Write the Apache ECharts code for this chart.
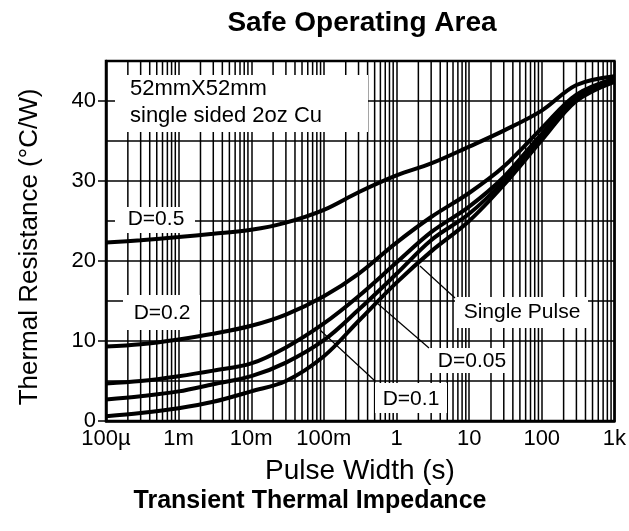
<!DOCTYPE html>
<html>
<head>
<meta charset="utf-8">
<script src="https://cdn.jsdelivr.net/npm/echarts@6/dist/echarts.min.js"></script>
<style>
html,body{margin:0;padding:0;background:#fff;}
#chart{width:629px;height:531px;}
</style>
</head>
<body>
<div id="chart"></div>
<script>
// ---- data ----
const pulseWidth = [1e-4, 3e-4, 1e-3, 3e-3, 1e-2, 3e-2, 0.1, 0.3, 1, 3, 10, 30, 100, 300, 1000];
const zD05    = [22.3, 22.6, 23.0, 23.4, 23.9, 24.8, 26.4, 28.6, 30.7, 32.2, 34.3, 36.3, 38.8, 42.0, 43.1];
const zD02    = [9.3, 9.6, 10.2, 10.9, 11.9, 13.3, 15.6, 18.4, 22.3, 25.5, 28.5, 31.8, 36.6, 40.8, 42.8];
const zD01    = [4.7, 5.0, 5.6, 6.3, 7.2, 9.2, 12.2, 15.6, 19.8, 23.6, 26.8, 30.5, 35.9, 40.4, 42.6];
const zD005   = [2.7, 3.1, 3.7, 4.6, 5.6, 7.3, 10.1, 13.9, 18.4, 22.6, 25.9, 30.0, 35.5, 40.2, 42.5];
const zSingle = [0.6, 1.0, 1.6, 2.4, 3.7, 5.0, 8.1, 12.5, 17.3, 21.2, 25.0, 29.5, 35.1, 40.0, 42.4];
const xTickValues = [1e-4, 1e-3, 1e-2, 0.1, 1, 10, 100, 1000];
const xTickLabels = ['100\u00b5', '1m', '10m', '100m', '1', '10', '100', '1k'];
const yLabelValues = [0, 10, 20, 30, 40];

const pairs = arr => pulseWidth.map((t, i) => [t, arr[i]]);
const minorX = [];
for (let d = 1e-4; d < 999; d *= 10) {
  for (let k = 2; k <= 9; k++) minorX.push([d * k, 0]);
}

const chart = echarts.init(document.getElementById('chart'), null, {renderer: 'canvas'});
const FONT = '"Liberation Sans", Arial, sans-serif';
const curve = (name, arr) => ({
  name, type: 'line', data: pairs(arr), smooth: 0.35, showSymbol: false,
  symbol: 'none', z: 3, silent: true,
  lineStyle: {color: '#000', width: 4}
});

chart.setOption({
  animation: false,
  backgroundColor: '#fff',
  grid: {left: 106, right: 14, top: 61, bottom: 110, show: true,
         borderColor: '#000', borderWidth: 2.5, backgroundColor: 'transparent'},
  xAxis: {
    type: 'log', logBase: 10, min: 1e-4, max: 1000,
    axisLine: {show: true, lineStyle: {color: '#000', width: 2.5}},
    axisTick: {show: false},
    minorTick: {show: false},
    splitLine: {show: true, lineStyle: {color: '#000', width: 1.5}},
    axisLabel: {
      color: '#000', fontSize: 22, fontFamily: FONT, margin: 7,
      formatter: v => {
        const i = xTickValues.findIndex(t => Math.abs(Math.log10(t) - Math.log10(v)) < 1e-6);
        return i >= 0 ? xTickLabels[i] : '';
      }
    }
  },
  yAxis: {
    type: 'value', min: 0, max: 45, interval: 5,
    axisLine: {show: true, lineStyle: {color: '#000', width: 2.5}},
    axisTick: {show: false},
    splitLine: {show: true, lineStyle: {color: '#000', width: 1.5}},
    axisLabel: {
      color: '#000', fontSize: 22, fontFamily: FONT, margin: 10,
      formatter: v => yLabelValues.indexOf(v) >= 0 ? String(v) : ''
    }
  },
  series: [
    {
      type: 'custom', z: 1, silent: true, data: minorX,
      encode: {x: 0, y: 1},
      renderItem: (params, api) => {
        const v = api.value(0);
        const p1 = api.coord([v, 0]);
        const p2 = api.coord([v, 45]);
        return {type: 'line', shape: {x1: p1[0], y1: p1[1], x2: p2[0], y2: p2[1]},
                style: {stroke: '#000', lineWidth: 1.5}};
      }
    },
    {
      type: 'custom', z: 1, silent: true, clip: false,
      data: yLabelValues.map(v => [1e-4, v]),
      encode: {x: 0, y: 1},
      renderItem: (params, api) => {
        const p = api.coord([api.value(0), api.value(1)]);
        return {type: 'line', shape: {x1: p[0] - 8, y1: p[1], x2: p[0], y2: p[1]},
                style: {stroke: '#000', lineWidth: 1.5}};
      }
    },
    curve('D=0.5', zD05),
    curve('D=0.2', zD02),
    curve('D=0.1', zD01),
    curve('D=0.05', zD005),
    curve('Single Pulse', zSingle)
  ],
  graphic: [
    // white label boxes
    {type: 'rect', z: 10, shape: {x: 115, y: 75, width: 253, height: 57}, style: {fill: '#fff'}},
    {type: 'rect', z: 10, shape: {x: 115, y: 207, width: 80, height: 26}, style: {fill: '#fff'}},
    {type: 'rect', z: 10, shape: {x: 123, y: 295, width: 77, height: 35}, style: {fill: '#fff'}},
    {type: 'rect', z: 10, shape: {x: 455, y: 297, width: 133, height: 31}, style: {fill: '#fff'}},
    {type: 'rect', z: 10, shape: {x: 430, y: 348, width: 80, height: 25}, style: {fill: '#fff'}},
    {type: 'rect', z: 10, shape: {x: 375, y: 383, width: 72, height: 30}, style: {fill: '#fff'}},
    // leader lines
    {type: 'line', z: 11, shape: {x1: 420, y1: 266, x2: 455, y2: 298}, style: {stroke: '#000', lineWidth: 1.2}},
    {type: 'line', z: 11, shape: {x1: 377, y1: 303, x2: 429, y2: 348}, style: {stroke: '#000', lineWidth: 1.2}},
    {type: 'line', z: 11, shape: {x1: 320, y1: 330, x2: 375, y2: 381}, style: {stroke: '#000', lineWidth: 1.2}},
    // label texts
    {type: 'text', z: 12, style: {text: '52mmX52mm', x: 130, y: 89, font: '22px ' + FONT, fill: '#000', textAlign: 'left', textVerticalAlign: 'middle'}},
    {type: 'text', z: 12, style: {text: 'single sided 2oz Cu', x: 130, y: 116, font: '22px ' + FONT, fill: '#000', textAlign: 'left', textVerticalAlign: 'middle'}},
    {type: 'text', z: 12, style: {text: 'D=0.5', x: 156, y: 219, font: '21px ' + FONT, fill: '#000', textAlign: 'center', textVerticalAlign: 'middle'}},
    {type: 'text', z: 12, style: {text: 'D=0.2', x: 162, y: 313, font: '21px ' + FONT, fill: '#000', textAlign: 'center', textVerticalAlign: 'middle'}},
    {type: 'text', z: 12, style: {text: 'Single Pulse', x: 522, y: 312, font: '21px ' + FONT, fill: '#000', textAlign: 'center', textVerticalAlign: 'middle'}},
    {type: 'text', z: 12, style: {text: 'D=0.05', x: 472, y: 361, font: '21px ' + FONT, fill: '#000', textAlign: 'center', textVerticalAlign: 'middle'}},
    {type: 'text', z: 12, style: {text: 'D=0.1', x: 411, y: 399, font: '21px ' + FONT, fill: '#000', textAlign: 'center', textVerticalAlign: 'middle'}},
    // titles and axis names
    {type: 'text', z: 12, style: {text: 'Safe Operating Area', x: 362, y: 23, font: 'bold 28px ' + FONT, fill: '#000', textAlign: 'center', textVerticalAlign: 'middle'}},
    {type: 'text', z: 12, style: {text: 'Pulse Width (s)', x: 360, y: 471, font: '28px ' + FONT, fill: '#000', textAlign: 'center', textVerticalAlign: 'middle'}},
    {type: 'text', z: 12, style: {text: 'Transient Thermal Impedance', x: 310, y: 501, font: 'bold 25px ' + FONT, fill: '#000', textAlign: 'center', textVerticalAlign: 'middle'}},
    {type: 'text', z: 12, rotation: Math.PI / 2, x: 30, y: 247,
     style: {text: 'Thermal Resistance (\u00b0C/W)', x: 0, y: 0, font: '26px ' + FONT, fill: '#000', textAlign: 'center', textVerticalAlign: 'middle'}}
  ]
});
</script>
</body>
</html>
